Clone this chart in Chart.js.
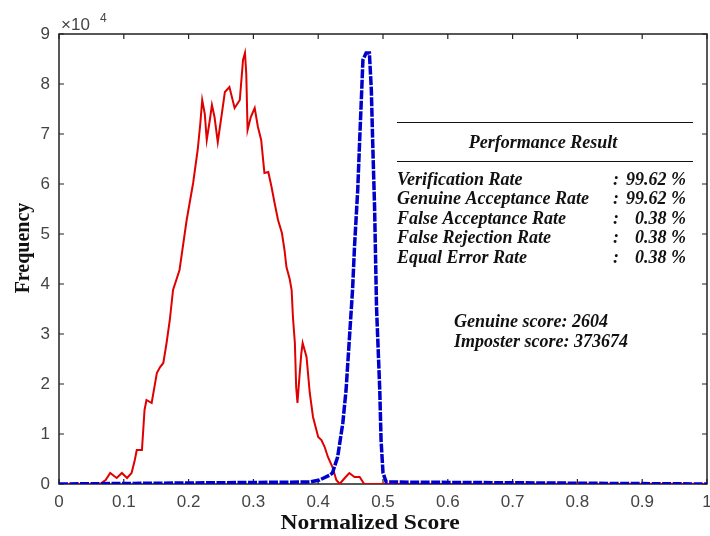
<!DOCTYPE html>
<html>
<head>
<meta charset="utf-8">
<script src="https://cdn.jsdelivr.net/npm/chart.js@4.4.0/dist/chart.umd.min.js"></script>
<style>
  html, body { margin: 0; padding: 0; background: #fff; }
  #wrap { width: 710px; height: 536px; }
</style>
</head>
<body>
<div id="wrap"><canvas id="chartCanvas"></canvas></div>
<script>
// Frequencies are in units of 10^4 (axis shows "x10^4")
const imposterScore = [0, 0.063, 0.072, 0.079, 0.089, 0.097, 0.105, 0.112, 0.117, 0.12, 0.128, 0.132, 0.135, 0.143, 0.151, 0.156, 0.161, 0.166, 0.171, 0.176, 0.186, 0.197, 0.207, 0.214, 0.218, 0.221, 0.225, 0.228, 0.233, 0.236, 0.24, 0.245, 0.251, 0.256, 0.263, 0.271, 0.279, 0.284, 0.287, 0.289, 0.291, 0.296, 0.302, 0.307, 0.312, 0.317, 0.323, 0.328, 0.333, 0.338, 0.344, 0.348, 0.351, 0.356, 0.359, 0.361, 0.364, 0.366, 0.368, 0.371, 0.374, 0.376, 0.382, 0.387, 0.392, 0.4, 0.405, 0.41, 0.415, 0.422, 0.428, 0.433, 0.441, 0.448, 0.456, 0.464, 0.471, 1];
const imposterFreq = [0, 0, 0.08, 0.22, 0.12, 0.22, 0.12, 0.22, 0.48, 0.68, 0.68, 1.48, 1.68, 1.62, 2.22, 2.34, 2.42, 2.82, 3.28, 3.88, 4.28, 5.28, 6.02, 6.68, 7.2, 7.68, 7.4, 6.88, 7.3, 7.58, 7.34, 6.84, 7.38, 7.84, 7.94, 7.52, 7.68, 8.48, 8.62, 8.2, 7.08, 7.34, 7.52, 7.14, 6.88, 6.22, 6.24, 5.94, 5.6, 5.28, 5.02, 4.68, 4.34, 4.1, 3.88, 3.34, 2.82, 1.94, 1.62, 2.14, 2.62, 2.82, 2.54, 1.82, 1.34, 0.94, 0.88, 0.74, 0.54, 0.34, 0.08, 0, 0.12, 0.22, 0.14, 0.14, 0, 0];

const genuineScore = [0, 0.387, 0.402, 0.418, 0.422, 0.43, 0.438, 0.443, 0.448, 0.453, 0.456, 0.461, 0.464, 0.467, 0.469, 0.474, 0.479, 0.482, 0.484, 0.487, 0.49, 0.495, 0.497, 0.5, 0.505, 1];
const genuineFreq = [0, 0.04, 0.08, 0.18, 0.22, 0.54, 1.22, 1.88, 2.88, 3.88, 4.74, 5.88, 6.88, 7.82, 8.48, 8.62, 8.62, 7.88, 6.88, 5.54, 3.54, 1.88, 0.88, 0.22, 0.04, 0];

const xTicks = [0, 0.1, 0.2, 0.3, 0.4, 0.5, 0.6, 0.7, 0.8, 0.9, 1];
const yTicks = [0, 1, 2, 3, 4, 5, 6, 7, 8, 9];

const resultNames = ['Verification Rate', 'Genuine Acceptance Rate', 'False Acceptance Rate', 'False Rejection Rate', 'Equal Error Rate'];
const resultValues = ['99.62 %', '99.62 %', '0.38 %', '0.38 %', '0.38 %'];
const scoreLines = ['Genuine score: 2604', 'Imposter score: 373674'];

function toPoints(xs, ys) {
    return xs.map((x, i) => ({ x: x, y: ys[i] }));
}

// box, inward ticks and all the text labels
const matlabLook = {
    id: 'matlabLook',
    beforeDatasetsDraw(chart) {
        const ctx = chart.ctx;
        const a = chart.chartArea;
        const xs = chart.scales.x, ys = chart.scales.y;
        ctx.save();
        ctx.strokeStyle = '#222';
        ctx.lineWidth = 1.5;
        ctx.strokeRect(a.left, a.top, a.right - a.left, a.bottom - a.top);
        ctx.lineWidth = 1.2;
        ctx.beginPath();
        xTicks.forEach(v => {
            const px = xs.getPixelForValue(v);
            ctx.moveTo(px, a.bottom); ctx.lineTo(px, a.bottom - 5);
            ctx.moveTo(px, a.top); ctx.lineTo(px, a.top + 5);
        });
        yTicks.forEach(v => {
            const py = ys.getPixelForValue(v);
            ctx.moveTo(a.left, py); ctx.lineTo(a.left + 5, py);
            ctx.moveTo(a.right, py); ctx.lineTo(a.right - 5, py);
        });
        ctx.stroke();
        ctx.restore();
    },
    afterDraw(chart) {
        const ctx = chart.ctx;
        ctx.save();

        // exponent label
        ctx.fillStyle = '#444';
        ctx.font = '17px "Liberation Sans"';
        ctx.textBaseline = 'alphabetic';
        ctx.textAlign = 'left';
        ctx.fillText('\u00d710', 61, 30);
        ctx.font = '12px "Liberation Sans"';
        ctx.fillText('4', 100, 22);

        // axis titles (the source image is a bit stretched sideways)
        ctx.fillStyle = '#111';
        ctx.font = 'bold 21px "Liberation Serif"';
        ctx.textAlign = 'center';
        ctx.textBaseline = 'middle';
        ctx.save();
        ctx.translate(370, 524);
        ctx.scale(1.12, 1);
        ctx.fillText('Normalized Score', 0, 0);
        ctx.restore();
        ctx.save();
        ctx.translate(24, 248);
        ctx.rotate(-Math.PI / 2);
        ctx.font = 'bold 20px "Liberation Serif"';
        ctx.fillText('Frequency', 0, 0);
        ctx.restore();

        // performance table
        ctx.strokeStyle = '#111';
        ctx.lineWidth = 1.2;
        ctx.beginPath();
        ctx.moveTo(397, 122.5); ctx.lineTo(693, 122.5);
        ctx.moveTo(397, 161.5); ctx.lineTo(693, 161.5);
        ctx.stroke();

        ctx.font = 'italic bold 18px "Liberation Serif"';
        ctx.textAlign = 'center';
        ctx.fillText('Performance Result', 543, 143);
        resultNames.forEach((name, i) => {
            const y = 180 + i * 19.6;
            ctx.textAlign = 'left';
            ctx.fillText(name, 397, y);
            ctx.fillText(':', 613, y);
            ctx.textAlign = 'right';
            ctx.fillText(resultValues[i], 686, y);
        });
        ctx.textAlign = 'left';
        scoreLines.forEach((t, i) => {
            ctx.fillText(t, 454, 322 + i * 20);
        });
        ctx.restore();
    }
};

const ctx = document.getElementById('chartCanvas').getContext('2d');

window.myChart = new Chart(ctx, {
    type: 'line',
    data: {
        datasets: [{
            label: 'Genuine',
            data: toPoints(genuineScore, genuineFreq),
            borderColor: '#0000cc',
            borderWidth: 3.5,
            borderDash: [9, 1.5],
            pointRadius: 0,
            tension: 0,
            fill: false
        }, {
            label: 'Imposter',
            data: toPoints(imposterScore, imposterFreq),
            borderColor: '#e00000',
            borderWidth: 2,
            pointRadius: 0,
            tension: 0,
            fill: false
        }]
    },
    options: {
        responsive: true,
        maintainAspectRatio: false,
        animation: false,
        layout: { padding: { top: 34, right: 3, left: 0, bottom: 0 } },
        plugins: {
            legend: { display: false },
            tooltip: { enabled: false }
        },
        scales: {
            x: {
                type: 'linear',
                min: 0,
                max: 1,
                grid: { display: false, drawTicks: false },
                border: { display: false },
                afterBuildTicks: s => { s.ticks = xTicks.map(v => ({ value: v })); },
                afterFit: s => { s.height = 52; s.paddingLeft = 0; s.paddingRight = 0; },
                ticks: {
                    maxRotation: 0,
                    autoSkip: false,
                    padding: 8,
                    color: '#444',
                    font: { family: 'Liberation Sans', size: 17 },
                    callback: v => (v === 0 || v === 1) ? String(v) : v.toFixed(1)
                }
            },
            y: {
                min: 0,
                max: 9,
                grid: { display: false, drawTicks: false },
                border: { display: false },
                afterBuildTicks: s => { s.ticks = yTicks.map(v => ({ value: v })); },
                afterFit: s => { s.width = 59; s.paddingTop = 0; s.paddingBottom = 0; },
                ticks: {
                    padding: 9,
                    color: '#444',
                    font: { family: 'Liberation Sans', size: 17 }
                }
            }
        }
    },
    plugins: [matlabLook]
});
</script>
</body>
</html>
